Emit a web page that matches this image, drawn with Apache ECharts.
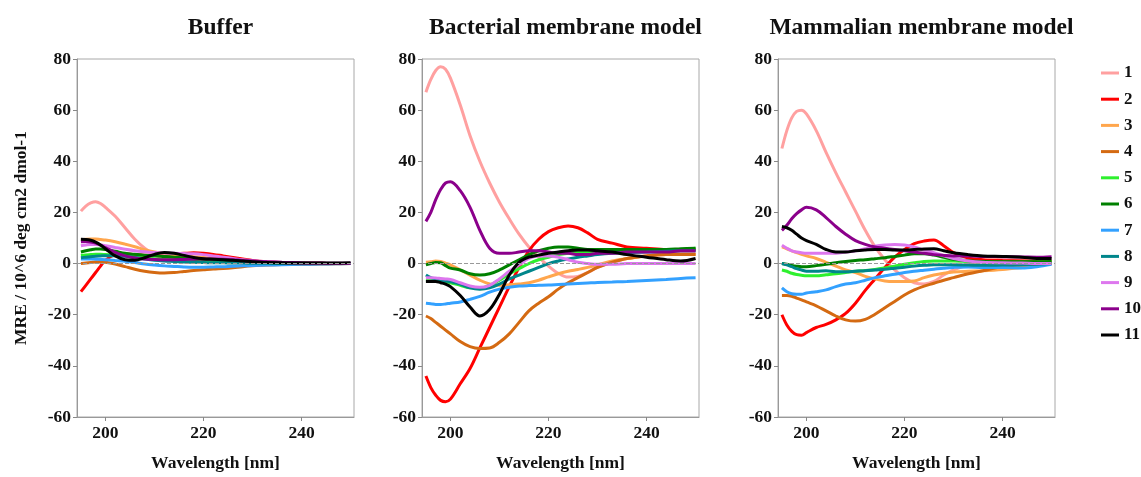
<!DOCTYPE html>
<html>
<head>
<meta charset="utf-8">
<title>CD spectra</title>
<script src="https://cdn.jsdelivr.net/npm/echarts@6/dist/echarts.min.js"></script>
<style>
  html,body{margin:0;padding:0;background:#fff;}
  #main{width:1141px;height:477px;}
</style>
</head>
<body>
<div id="main"></div>
<script>
// wavelengths (nm), shared by every curve
var wavelengths = [195,196,197,198,199,200,202,204,206,208,210,212,214,216,218,220,222,224,226,228,230,233,236,240,244,247,250];
var peptides = ['1','2','3','4','5','6','7','8','9','10','11'];
var panelTitles = ['Buffer','Bacterial membrane model','Mammalian membrane model'];
var xTicks = [200,220,240];

// MRE values, one row per peptide 1..11
var bufferMRE = [
  [20.5,22.5,23.7,24.2,23.5,22,18.5,14,9.5,6,3.5,2,1.5,1.2,1,1,0.8,0.7,0.5,0.4,0.3,0.2,0.1,0,0,0,0],
  [-11,-8.5,-6,-3.5,-1,1.3,3.5,3.8,3.5,3.3,3.3,3.5,3.8,4,4.2,4,3.6,3,2.4,1.8,1.2,0.7,0.4,0.2,0.1,0,0],
  [9.3,9.5,9.6,9.6,9.4,9.2,8.5,7.6,6.6,5.4,4.5,3.9,3.5,3.1,2.7,2.4,2,1.6,1.2,0.9,0.7,0.4,0.3,0.2,0.1,0,0],
  [0,0.2,0.4,0.6,0.6,0.5,-0.2,-1.2,-2.2,-3,-3.5,-3.7,-3.5,-3.1,-2.7,-2.4,-2.1,-1.9,-1.6,-1.2,-0.9,-0.6,-0.4,-0.3,-0.2,-0.1,0],
  [3.2,3.4,3.5,3.6,3.6,3.5,3.3,3,2.6,2.2,1.8,1.5,1.3,1.1,1,0.9,0.8,0.7,0.6,0.5,0.4,0.3,0.2,0.1,0,0,0],
  [4.5,5,5.4,5.7,5.7,5.5,4.8,4,3.6,3.3,3.1,2.8,2.5,2.2,1.9,1.7,1.5,1.3,1.1,0.9,0.7,0.5,0.3,0.2,0.1,0,0],
  [1.8,1.8,1.8,1.7,1.6,1.5,1.2,0.9,0.4,-0.2,-0.6,-0.9,-1.1,-1.3,-1.4,-1.4,-1.3,-1.2,-1,-0.9,-0.8,-0.6,-0.5,-0.3,-0.2,-0.1,0],
  [2.3,2.5,2.7,2.9,3,3.1,3.1,2.9,2.4,1.8,1.3,1,0.8,0.6,0.5,0.4,0.3,0.3,0.2,0.2,0.1,0.1,0,0,0,0,0],
  [7,7.3,7.5,7.5,7.3,7,6.3,5.6,5,4.6,4.3,4.1,4,3.9,3.8,3.5,3,2.5,2,1.5,1.1,0.7,0.4,0.2,0.1,0,0],
  [8.5,8.6,8.4,8,7.2,6.2,4.4,3,2.2,1.8,1.6,1.5,1.5,1.6,1.7,1.8,1.8,1.7,1.5,1.2,1,0.7,0.5,0.3,0.2,0.1,0.1],
  [9.5,9.4,9.1,8.4,7.3,5.8,3,1.5,1.3,2.3,3.6,4.3,4,3.2,2.4,1.9,1.7,1.5,1.3,1,0.7,0.4,0.3,0.2,0.2,0.2,0.3]
];
var bacterialMRE = [
  [67,72,75.5,77,76,72.5,62,50,40,31.5,24,17.5,11.5,6.5,2.5,-1,-3.8,-5.3,-5,-3.5,-1.5,0.5,2,3,3.5,4,4],
  [-44,-48.5,-51.5,-53.5,-54,-53,-47,-41,-33,-25,-17,-9,-1.5,5,9.5,12.5,14,14.7,14,12,9.5,8,6.5,6,5.5,5.5,5.5],
  [0.5,0.7,1,0.8,0.2,-0.5,-2.5,-4.5,-6.5,-8,-8.5,-8.3,-8,-7.5,-6.5,-5.2,-4,-3,-2.3,-1.5,-0.5,1,2,3,3.5,3.5,3.5],
  [-20.5,-21.5,-23,-24.5,-26,-27.5,-30.5,-32.5,-33.2,-33,-30.8,-27.5,-23,-18.5,-15.5,-13,-10,-7.5,-5.5,-3.5,-1.5,0.5,2,3,3.5,3.5,3.5],
  [-6.5,-6.5,-6.8,-7,-7.2,-7.5,-8.5,-9.5,-9.5,-8.5,-6.5,-4,-2,0,1.5,2.5,3.5,4,4.5,4.5,5,5,5,5.5,5.5,5.5,6],
  [-0.5,0,0.4,0.3,-0.8,-1.8,-2.5,-4,-4.5,-4,-2.5,-0.5,1.5,3.5,5,6,6.5,6.5,6,5.5,5.5,5.5,5.5,5.5,5.5,5.8,6],
  [-15.5,-15.7,-16,-16,-15.8,-15.5,-15,-14,-12.8,-11.2,-10,-9.3,-8.8,-8.6,-8.5,-8.4,-8.2,-8,-7.8,-7.6,-7.4,-7.2,-7,-6.6,-6.2,-5.8,-5.5],
  [-4.5,-5.5,-6,-6.5,-6.8,-7,-8,-9.5,-10,-9.5,-8,-6,-4.5,-3,-1.5,0,1,1.8,2.5,3,3.5,4,4.3,4.5,4.8,5,5],
  [-5.5,-5.5,-5.6,-5.8,-6,-6.2,-7.5,-8.8,-9.3,-8.5,-6,-3,-0.5,2,3,3,2.5,1.5,0.5,0,-0.3,-0.3,0,0,0,0,0],
  [16.5,20,25,29,31.5,32,28.5,22,13,6,4,4,4.5,5,5,4.5,4,4,3.5,3.5,4,4,4.5,4.5,4.5,5,5],
  [-7,-7,-7,-7.5,-8,-9,-12.5,-17,-20.5,-18,-12,-4.5,0.5,2.5,3.3,4,4.5,5,5.3,5.3,5,4.5,3.5,2.5,1.5,1,2]
];
var mammalianMRE = [
  [45,52,57,59.5,60,58.5,52,43.5,35.5,28,20.5,13,6.5,1.5,-2.5,-5.5,-7.5,-8,-7,-4.5,-2.5,-0.5,1,1.5,1.5,1.5,1.5],
  [-20,-24,-26.5,-27.8,-28,-27,-25,-23.8,-22,-19.5,-15.5,-10.5,-6,-1.5,2.5,5.5,7.8,8.8,9.2,7,4.3,2.2,1.5,1.2,1,0.8,0.6],
  [6.5,5.8,5,4.3,3.6,3,2,0.5,-1,-2.5,-3.5,-5,-6,-6.8,-7,-7,-6.8,-5.5,-4.5,-3.8,-3.3,-3,-2.8,-2.3,-1.5,-0.8,0],
  [-12.5,-12.5,-12.8,-13.5,-14.2,-15,-16.5,-18.5,-20.5,-22,-22.5,-21.8,-19.8,-17.3,-14.8,-12.3,-10.3,-8.8,-7.7,-6.5,-5.5,-4,-2.8,-1.2,-0.5,-0.3,0],
  [-2.5,-3,-3.8,-4.3,-4.6,-4.8,-4.8,-4.4,-4,-3.5,-3,-2.7,-2.3,-1.7,-1,-0.3,0.3,0.8,1,1,1,0.8,0.7,0.6,0.6,0.6,0.7],
  [0,-0.3,-0.7,-1,-1.2,-1.2,-0.8,-0.3,0.3,0.8,1.2,1.5,1.9,2.3,2.8,3.3,3.8,3.8,3.3,2.5,1.7,1.1,0.8,0.7,0.7,0.7,0.8],
  [-9.5,-11,-11.8,-12,-12,-11.5,-11,-10.3,-9,-8,-7.5,-6.5,-5.5,-4.8,-4.2,-3.5,-3,-2.6,-2.2,-1.8,-1.5,-1.3,-1.5,-1.5,-1.7,-1.2,-0.3],
  [0,-0.5,-1.2,-2,-2.5,-3,-3,-2.8,-3.2,-3.2,-3,-2.8,-2.5,-2.2,-1.8,-1.4,-1,-0.7,-0.5,-0.5,-0.5,-0.6,-0.7,-0.6,-0.5,-0.3,0],
  [7.2,6,5,4.5,4.2,4,4,4,4,4.5,5,5.8,6.8,7.3,7.5,7.3,6.5,5.3,4.3,3,2,1,0.5,0.3,0.2,0,0],
  [13,15,17.5,19.5,21,22,21,18,14.5,11.5,9,7.5,6.5,6,5.5,5,4.5,4,3.5,3.2,3,3,2.8,2.7,2.6,2.5,2.7],
  [14.5,14,13,11.5,10,9,7.5,5.5,4.5,4.5,5,5.3,5.5,5.5,5.3,5.3,5.5,5.7,5.8,5,4.2,3.5,3,2.8,2.5,2,2]
];

var colors = ['#ffa0a0','#ff0000','#ffa64d','#d46a12','#2ef02e','#008000','#33a1ff','#00868b','#dd77ee','#8b008b','#000000'];

var page = {
  init:function (){
    this.chart();
  },
  chart:function (){
    var myChart = echarts.init(document.getElementById('main'));
    var font = 'Liberation Serif';
    var lefts = [77, 422, 778];
    var panels = [bufferMRE, bacterialMRE, mammalianMRE];
    var grid = [], xAxis = [], yAxis = [], title = [], series = [];

    for (var p = 0; p < 3; p++){
      grid.push({left:lefts[p], top:59, width:277, height:372, show:true, borderColor:'#a8a8a8', borderWidth:1, backgroundColor:'transparent'});
      title.push({
        text:panelTitles[p], left:lefts[p] + 138.5, top:11, textAlign:'center',
        textStyle:{fontFamily:font, fontWeight:'bold', fontSize:23.5, color:'#111'}
      });
      xAxis.push({
        type:'value', gridIndex:p, min:194.2, max:250.7,
        name:'Wavelength [nm]', nameLocation:'middle', nameGap:37,
        nameTextStyle:{fontFamily:font, fontWeight:'bold', fontSize:17.5, color:'#111'},
        axisLine:{show:true, onZero:false, lineStyle:{color:'#999'}},
        axisTick:{show:true, length:4, customValues:xTicks, lineStyle:{color:'#888'}},
        axisLabel:{customValues:xTicks, margin:7, fontFamily:font, fontWeight:'bold', fontSize:17.5, color:'#111'},
        splitLine:{show:false}
      });
      yAxis.push({
        type:'value', gridIndex:p, min:-60, max:80, interval:20,
        name:p == 0 ? 'MRE / 10^6 deg cm2 dmol-1' : '', nameLocation:'middle', nameGap:47,
        nameTextStyle:{fontFamily:font, fontWeight:'bold', fontSize:17.5, color:'#111'},
        axisLine:{show:true, lineStyle:{color:'#999'}},
        axisTick:{show:true, length:4, lineStyle:{color:'#888'}},
        axisLabel:{margin:6, fontFamily:font, fontWeight:'bold', fontSize:17.5, color:'#111'},
        splitLine:{show:false}
      });
      for (var i = 0; i < peptides.length; i++){
        var rows = panels[p][i];
        var s = {
          name:peptides[i], type:'line', xAxisIndex:p, yAxisIndex:p,
          data:wavelengths.map(function (w, k){ return [w, rows[k]]; }),
          showSymbol:false, smooth:0.35,
          lineStyle:{width:3, color:colors[i]}, itemStyle:{color:colors[i]}
        };
        /*dashed zero line*/
        if (i == 0){
          s.markLine = {
            silent:true, symbol:'none', label:{show:false},
            lineStyle:{color:'#999', type:'dashed', width:1},
            data:[{yAxis:0}]
          };
        }
        series.push(s);
      }
    }

    var option = {
      animation:false,
      title:title,
      legend:{
        orient:'vertical', left:1101, top:64, padding:0,
        icon:'rect', itemWidth:18, itemHeight:3, itemGap:8.2,
        textStyle:{fontFamily:font, fontWeight:'bold', fontSize:17, lineHeight:18, color:'#111'},
        data:peptides
      },
      grid:grid,
      xAxis:xAxis,
      yAxis:yAxis,
      series:series
    };
    myChart.setOption(option);
  }
};
page.init();
</script>
</body>
</html>
